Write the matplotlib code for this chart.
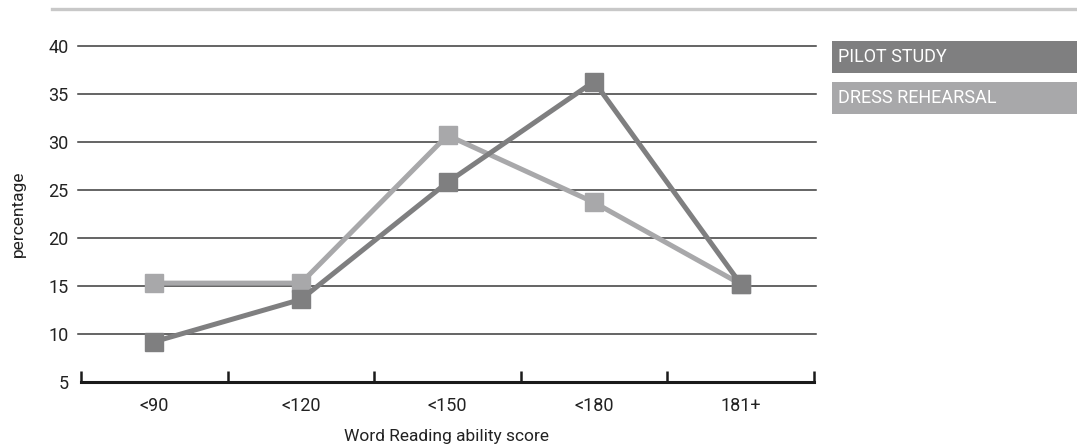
import matplotlib
matplotlib.use("Agg")
import matplotlib.pyplot as plt
from matplotlib.lines import Line2D
from matplotlib.patches import Rectangle

categories = ["<90", "<120", "<150", "<180", "181+"]
pilot_study = [9.2, 13.6, 25.8, 36.3, 15.2]
dress_rehearsal = [15.3, 15.3, 30.7, 23.7, 15.2]
y_ticks = [5, 10, 15, 20, 25, 30, 35, 40]

plt.rcParams['font.family'] = ['Roboto', 'DejaVu Sans']

W, H = 1077, 446
fig = plt.figure(figsize=(W / 100, H / 100), dpi=100)
ax = fig.add_axes([81 / W, 1 - 382 / H, (814 - 81) / W, (382 - 46) / H])

pilot_c = "#7f7f80"
dress_c = "#a8a8aa"
text_c = "#222222"
fs = 13

for yv in y_ticks[1:]:
    ax.axhline(yv, color="#3a3a3a", lw=1.1, zorder=1, xmin=-0.004, xmax=1.003, clip_on=False)

x = list(range(len(categories)))
ax.plot(x, dress_rehearsal, color=dress_c, lw=3.6, marker="s", ms=12.5, zorder=3)
ax.plot(x, pilot_study, color=pilot_c, lw=3.6, marker="s", ms=12.5, zorder=4)

ax.set_xlim(-0.5, len(categories) - 0.5)
ax.set_ylim(5, 40)
ax.set_yticks(y_ticks)
ax.set_yticklabels([str(v) for v in y_ticks], fontsize=fs, color=text_c)
ax.tick_params(axis="y", length=0, pad=9)

ax.set_xticks(x)
ax.set_xticklabels(categories, fontsize=fs, color=text_c)
ax.tick_params(axis="x", which="major", length=0, pad=11)
ax.set_xticks([i - 0.5 for i in range(len(categories) + 1)], minor=True)
ax.tick_params(axis="x", which="minor", length=8, width=1.8, direction="in", color="#1a1a1a")

for s in ["top", "right", "left"]:
    ax.spines[s].set_visible(False)
ax.spines["bottom"].set_linewidth(2.2)
ax.spines["bottom"].set_color("#1a1a1a")

fig.text(18 / W, 1 - 214 / H, "percentage", rotation=90, fontsize=12.5, color=text_c,
         ha="center", va="center")
fig.text(447 / W, 1 - 436 / H, "Word Reading ability score", fontsize=12.5, color=text_c,
         ha="center", va="center")

# top rule
fig.add_artist(Line2D([52 / W, 1.0], [1 - 9 / H, 1 - 9 / H], color="#c8c8c8", lw=2.4))

# legend boxes
legend_items = [("PILOT STUDY", pilot_c, 41, 73), ("DRESS REHEARSAL", dress_c, 82, 114)]
for label, col, y0, y1 in legend_items:
    fig.add_artist(Rectangle((832 / W, 1 - y1 / H), (W - 832) / W, (y1 - y0) / H,
                             transform=fig.transFigure, facecolor=col, edgecolor="none"))
    fig.text(838 / W, 1 - (y0 + y1) / 2 / H, label, color="white", fontsize=fs,
             va="center", ha="left")

fig.savefig("out.png", dpi=100)
